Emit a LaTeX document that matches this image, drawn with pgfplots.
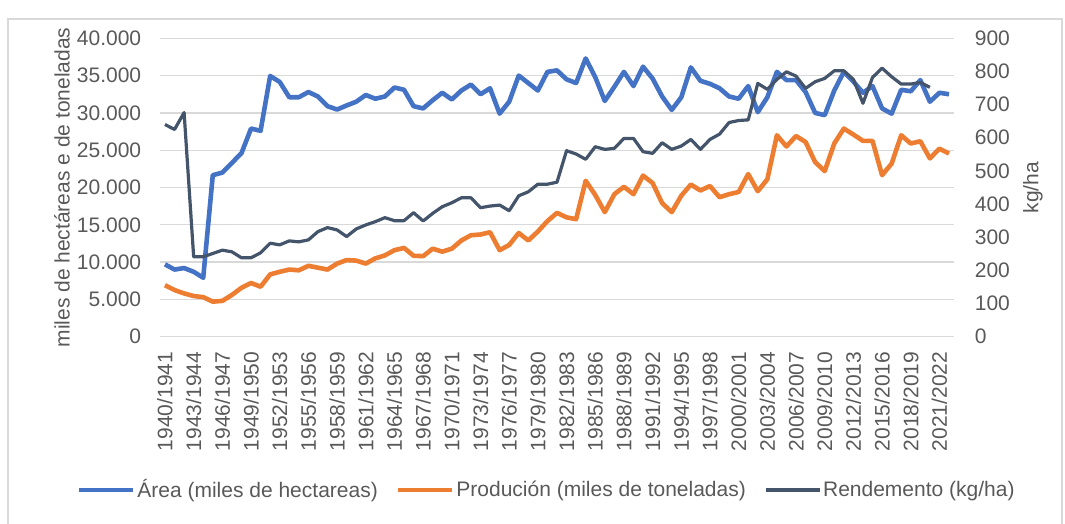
\documentclass[border=0pt]{standalone}
\usepackage{fontspec}
\setmainfont{Liberation Sans}
\usepackage{pgfplots}
\usepackage{pgfplotstable}
\pgfplotsset{compat=1.18}
\definecolor{cblue}{RGB}{68,114,196}
\definecolor{corange}{RGB}{237,125,49}
\definecolor{cdark}{RGB}{68,84,106}
\definecolor{ctext}{RGB}{89,89,89}
\definecolor{cgrid}{RGB}{217,217,217}
\pgfplotstableread{
i area prod
0 9700 6900
1 9000 6250
2 9200 5800
3 8700 5450
4 7900 5300
5 21650 4700
6 22000 4800
7 23300 5600
8 24600 6550
9 27900 7200
10 27600 6700
11 34950 8350
12 34150 8700
13 32100 9000
14 32100 8900
15 32800 9500
16 32200 9250
17 30900 9000
18 30450 9800
19 31000 10270
20 31500 10200
21 32400 9800
22 31900 10500
23 32200 10900
24 33400 11600
25 33100 11900
26 30900 10850
27 30600 10800
28 31700 11800
29 32700 11400
30 31800 11800
31 33000 12900
32 33800 13600
33 32500 13700
34 33300 14000
35 29900 11600
36 31500 12300
37 35000 13900
38 34000 12900
39 33000 14100
40 35500 15500
41 35700 16600
42 34500 16000
43 34000 15750
44 37300 20900
45 34800 19000
46 31600 16700
47 33500 19100
48 35500 20100
49 33600 19100
50 36200 21600
51 34600 20600
52 32200 17900
53 30400 16700
54 32100 18900
55 36100 20400
56 34300 19600
57 33900 20200
58 33300 18700
59 32200 19100
60 31900 19400
61 33600 21800
62 30100 19500
63 32100 21100
64 35500 27000
65 34400 25500
66 34400 26900
67 32800 26100
68 30000 23400
69 29700 22200
70 33000 25900
71 35500 27900
72 34200 27100
73 32700 26250
74 33600 26250
75 30600 21650
76 29900 23200
77 33100 27000
78 32900 25900
79 34400 26200
80 31500 23900
81 32700 25200
82 32500 24550
}\areaprod
\pgfplotstableread{
i rend
0 640
1 625
2 676
3 241
4 241
5 251
6 261
7 256
8 238
9 238
10 253
11 282
12 277
13 289
14 286
15 292
16 317
17 329
18 322
19 302
20 325
21 337
22 347
23 359
24 350
25 350
26 374
27 349
28 372
29 392
30 404
31 419
32 419
33 389
34 394
35 397
36 380
37 425
38 437
39 460
40 460
41 466
42 561
43 551
44 535
45 573
46 565
47 568
48 598
49 598
50 558
51 553
52 585
53 565
54 575
55 595
56 565
57 595
58 611
59 646
60 652
61 654
62 764
63 746
64 776
65 799
66 786
67 749
68 769
69 779
70 802
71 802
72 776
73 704
74 782
75 810
76 784
77 762
78 762
79 767
80 752
}\rend
\pgfplotsset{
  common/.style={
    scale only axis, width=396.8pt, height=149.2pt,
    xmin=-0.5, xmax=82.5, ymin=0,
    axis line style={draw=none}, tick style={draw=none},
    major tick length=0pt,
    font=\fontsize{10.5pt}{12pt}\selectfont,
    tick label style={text=ctext, font=\fontsize{10.5pt}{12pt}\selectfont},
    /pgf/number format/assume math mode=true,
    scaled y ticks=false,
  }
}
\begin{document}
\begin{tikzpicture}
\path[use as bounding box] (0,0) rectangle (532.5pt,262pt);
\draw[cgrid, line width=0.6pt] (4pt,-2pt) -- (4pt,252.5pt) -- (531pt,252.5pt) -- (531pt,-2pt);
\begin{axis}[common,
  at={(80.1pt,93.65pt)}, anchor=south west,
  ymax=40000, ytick={0,5000,...,40000},
  /pgf/number format/.cd, 1000 sep={.}, /pgfplots/.cd,
  ymajorgrids, grid style={cgrid, line width=0.65pt},
  xtick={0,3,...,81},
  xticklabels={1940/1941,1943/1944,1946/1947,1949/1950,1952/1953,1955/1956,1958/1959,1961/1962,1964/1965,1967/1968,1970/1971,1973/1974,1976/1977,1979/1980,1982/1983,1985/1986,1988/1989,1991/1992,1994/1995,1997/1998,2000/2001,2003/2004,2006/2007,2009/2010,2012/2013,2015/2016,2018/2019,2021/2022},
  xticklabel style={rotate=90, anchor=east},
  xticklabel shift=4pt,
  yticklabel shift=6pt,
  ylabel={miles de hectáreas e de toneladas},
  every axis y label/.style={at={(axis description cs:-0.1237,0.5)}, anchor=center, rotate=90, text=ctext, font=\fontsize{10.5pt}{12pt}\selectfont},
  legend style={at={(axis description cs:0.487,-0.514)}, anchor=center, draw=none, fill=none,
    text=ctext, font=\fontsize{10.5pt}{12pt}\selectfont,
    /tikz/every even column/.append style={column sep=8pt},
    nodes={inner sep=1pt}},
  legend columns=3,
  legend image code/.code={\draw[#1] (0pt,0pt) -- (27pt,0pt);},
]
\addplot[cblue, line width=2.3pt, line join=round] table[x=i, y=area] {\areaprod};
\addlegendentry{Área (miles de hectareas)}
\addplot[corange, line width=2.3pt, line join=round] table[x=i, y=prod] {\areaprod};
\addlegendentry{Produción (miles de toneladas)}
\addlegendimage{cdark, line width=1.6pt}
\addlegendentry{Rendemento (kg/ha)}
\end{axis}
\begin{axis}[common,
  at={(80.1pt,93.65pt)}, anchor=south west,
  axis y line*=right, axis x line=none,
  ymax=900, ytick={0,100,...,900},
  yticklabel shift=7pt,
  ylabel={kg/ha},
  every axis y label/.style={at={(axis description cs:1.0998,0.5)}, anchor=center, rotate=90, text=ctext, font=\fontsize{10.5pt}{12pt}\selectfont},
]
\addplot[cdark, line width=1.6pt, line join=round] table[x=i, y=rend] {\rend};
\end{axis}
\end{tikzpicture}
\end{document}
